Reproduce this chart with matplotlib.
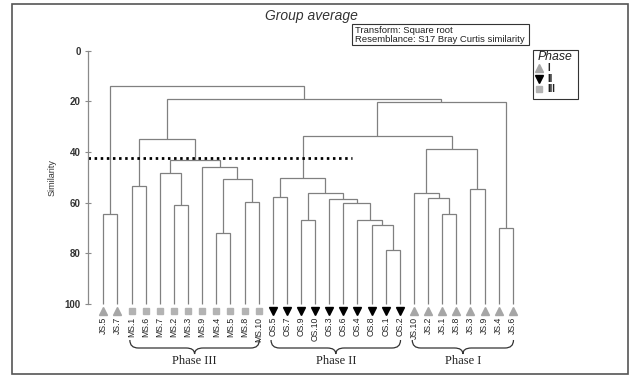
import matplotlib
matplotlib.use("Agg")
import matplotlib.pyplot as plt
from matplotlib.path import Path
from matplotlib.patches import PathPatch, Rectangle
from matplotlib.lines import Line2D

plt.rcParams['font.family'] = ['Liberation Sans', 'DejaVu Sans']

# ---------------- data ----------------
leaves = ["JS.5", "JS.7", "MS.1", "MS.6", "MS.7", "MS.2", "MS.3", "MS.9", "MS.4",
          "MS.5", "MS.8", "MS.10", "OS.5", "OS.7", "OS.9", "OS.10", "OS.3", "OS.6",
          "OS.4", "OS.8", "OS.1", "OS.2", "JS.10", "JS.2", "JS.1", "JS.8", "JS.3",
          "JS.9", "JS.4", "JS.6"]
leaf_phase = ["I", "I"] + ["III"] * 10 + ["II"] * 10 + ["I"] * 8

# merges: (node name, left child, right child, similarity %)
merges = [
    ("n1", "JS.5", "JS.7", 64.5),
    ("n2", "MS.1", "MS.6", 53.3),
    ("n3", "MS.2", "MS.3", 60.9),
    ("n4", "MS.7", "n3", 48.2),
    ("n5", "MS.4", "MS.5", 71.9),
    ("n6", "MS.8", "MS.10", 59.6),
    ("n7", "n5", "n6", 50.8),
    ("n8", "MS.9", "n7", 46.0),
    ("n9", "n4", "n8", 43.0),
    ("n10", "n2", "n9", 34.7),
    ("n11", "OS.5", "OS.7", 57.6),
    ("n12", "OS.9", "OS.10", 66.8),
    ("n13", "OS.1", "OS.2", 78.7),
    ("n14", "OS.8", "n13", 68.8),
    ("n15", "OS.4", "n14", 66.8),
    ("n16", "OS.6", "n15", 60.2),
    ("n17", "OS.3", "n16", 58.7),
    ("n18", "n12", "n17", 56.3),
    ("n19", "n11", "n18", 50.4),
    ("n20", "JS.1", "JS.8", 64.6),
    ("n21", "JS.2", "n20", 58.3),
    ("n22", "JS.10", "n21", 56.3),
    ("n23", "JS.3", "JS.9", 54.6),
    ("n24", "n22", "n23", 38.7),
    ("n25", "n19", "n24", 33.7),
    ("n26", "JS.4", "JS.6", 70.0),
    ("n27", "n25", "n26", 20.3),
    ("n28", "n10", "n27", 19.2),
    ("root", "n1", "n28", 13.8),
]

cut_similarity = 42.2
cut_end_leaf = 17.6

phases = ["I", "II", "III"]
phase_markers = {"I": "^", "II": "v", "III": "s"}
phase_colors = {"I": "#a6a6a6", "II": "#000000", "III": "#b3b3b3"}

brace_groups = [("Phase III", "MS.1", "MS.10"),
                ("Phase II", "OS.5", "OS.2"),
                ("Phase I", "JS.10", "JS.6")]

yticks = [0, 20, 40, 60, 80, 100]

# ---------------- figure ----------------
W, H = 630, 376
fig = plt.figure(figsize=(W / 100, H / 100), dpi=100)

ax_l, ax_r = 88.3, 530.0
y0px, y100px = 50.7, 304.0
ax = fig.add_axes([ax_l / W, (H - y100px) / H, (ax_r - ax_l) / W, (y100px - y0px) / H])
spacing = 14.12
first_px = 103.3
ax.set_xlim((ax_l - first_px) / spacing, (ax_r - first_px) / spacing)
ax.set_ylim(100, 0)

line_col = "#808080"
pos = {name: (i, 100.0) for i, name in enumerate(leaves)}
for name, a, b, s in merges:
    xa, sa = pos[a]
    xb, sb = pos[b]
    ax.plot([xa, xa, xb, xb], [sa, s, s, sb], color=line_col, lw=0.9,
            solid_capstyle='butt', solid_joinstyle='miter', clip_on=False)
    pos[name] = ((xa + xb) / 2, s)

# cut line
ax.plot([ax.get_xlim()[0], cut_end_leaf], [cut_similarity, cut_similarity],
        color="black", lw=2.0, linestyle=(0, (0.9, 1.3)), clip_on=False)

# markers and labels
for i, (lab, ph) in enumerate(zip(leaves, leaf_phase)):
    ax.plot(i, 102.8, marker=phase_markers[ph], color=phase_colors[ph],
            markersize=5.5 if ph != "III" else 4.8, clip_on=False, linestyle='none')
    ax.text(i, 105.0, lab, rotation=90, ha='center', va='top', fontsize=6.2,
            color="#222222", clip_on=False)

# axes styling
for sp in ["top", "right", "bottom"]:
    ax.spines[sp].set_visible(False)
ax.spines["left"].set_color("#8a8a8a")
ax.spines["left"].set_linewidth(0.9)
ax.set_xticks([])
ax.set_yticks(yticks)
ax.set_yticklabels([str(t) for t in yticks], fontsize=7, fontweight='bold', color="#333333")
ax.tick_params(axis='y', direction='inout', length=5, width=0.8, color="#8a8a8a", pad=3)
ax.set_ylabel("Similarity", fontsize=6.5, color="#333333", labelpad=6)
ax.patch.set_alpha(0)

# braces
trans = ax.get_xaxis_transform()
def frac(ypx):
    return (y100px - ypx) / (y100px - y0px)
yt, ym, ytip, ylab = frac(340), frac(348), frac(354), frac(361)
r = 0.6
for text, a, b in brace_groups:
    x0 = leaves.index(a) - 0.12
    x1 = leaves.index(b) + 0.05
    xm = (x0 + x1) / 2
    verts = [(x0, yt), (x0, ym), (x0 + r, ym), (xm - r, ym), (xm, ym), (xm, ytip),
             (xm, ym), (xm + r, ym), (x1 - r, ym), (x1, ym), (x1, yt)]
    codes = [Path.MOVETO, Path.CURVE3, Path.CURVE3, Path.LINETO, Path.CURVE3, Path.CURVE3,
             Path.CURVE3, Path.CURVE3, Path.LINETO, Path.CURVE3, Path.CURVE3]
    ax.add_patch(PathPatch(Path(verts, codes), transform=trans, fill=False,
                           edgecolor="#333333", lw=0.9, clip_on=False))
    ax.text(xm, ylab, text, transform=trans, ha='center', va='center', fontsize=9,
            family=['Liberation Serif', 'DejaVu Serif'], color="#222222", clip_on=False)

# helper for figure pixel coords (top-left origin)
def fx(x):
    return x / W
def fy(y):
    return (H - y) / H

# title
fig.text(fx(311), fy(16), "Group average", ha='center', va='center', fontsize=10,
         style='italic', color="#333333")

# info box
fig.add_artist(Rectangle((fx(352), fy(44.5)), (529 - 352) / W, (44.5 - 24.5) / H,
                         transform=fig.transFigure, fill=False, edgecolor="#333333", lw=0.8))
fig.text(fx(355), fy(30.5), "Transform: Square root", ha='left', va='center', fontsize=6.8,
         color="#222222")
fig.text(fx(355), fy(39.5), "Resemblance: S17 Bray Curtis similarity", ha='left', va='center',
         fontsize=6.8, color="#222222")

# legend
fig.add_artist(Rectangle((fx(532.7), fy(99)), (578.3 - 532.7) / W, (99 - 50) / H,
                         transform=fig.transFigure, fill=False, edgecolor="#333333", lw=0.8))
fig.text(fx(555.5), fy(56.5), "Phase", ha='center', va='center', fontsize=8.8, style='italic',
         color="#222222")
for k, (ph, yy) in enumerate(zip(phases, [68.3, 79.3, 89.3])):
    fig.add_artist(Line2D([fx(538.5)], [fy(yy)], marker=phase_markers[ph], color=phase_colors[ph],
                          markersize=6 if ph != "III" else 5, linestyle='none',
                          transform=fig.transFigure))
    fig.text(fx(547), fy(yy), ph, ha='left', va='center', fontsize=7, fontweight='bold',
             color="#222222")

# outer frame
fig.add_artist(Rectangle((fx(12), fy(374)), (628 - 12) / W, (374 - 4) / H,
                         transform=fig.transFigure, fill=False, edgecolor="#555555", lw=1.2))

fig.savefig("out.png", dpi=100)
